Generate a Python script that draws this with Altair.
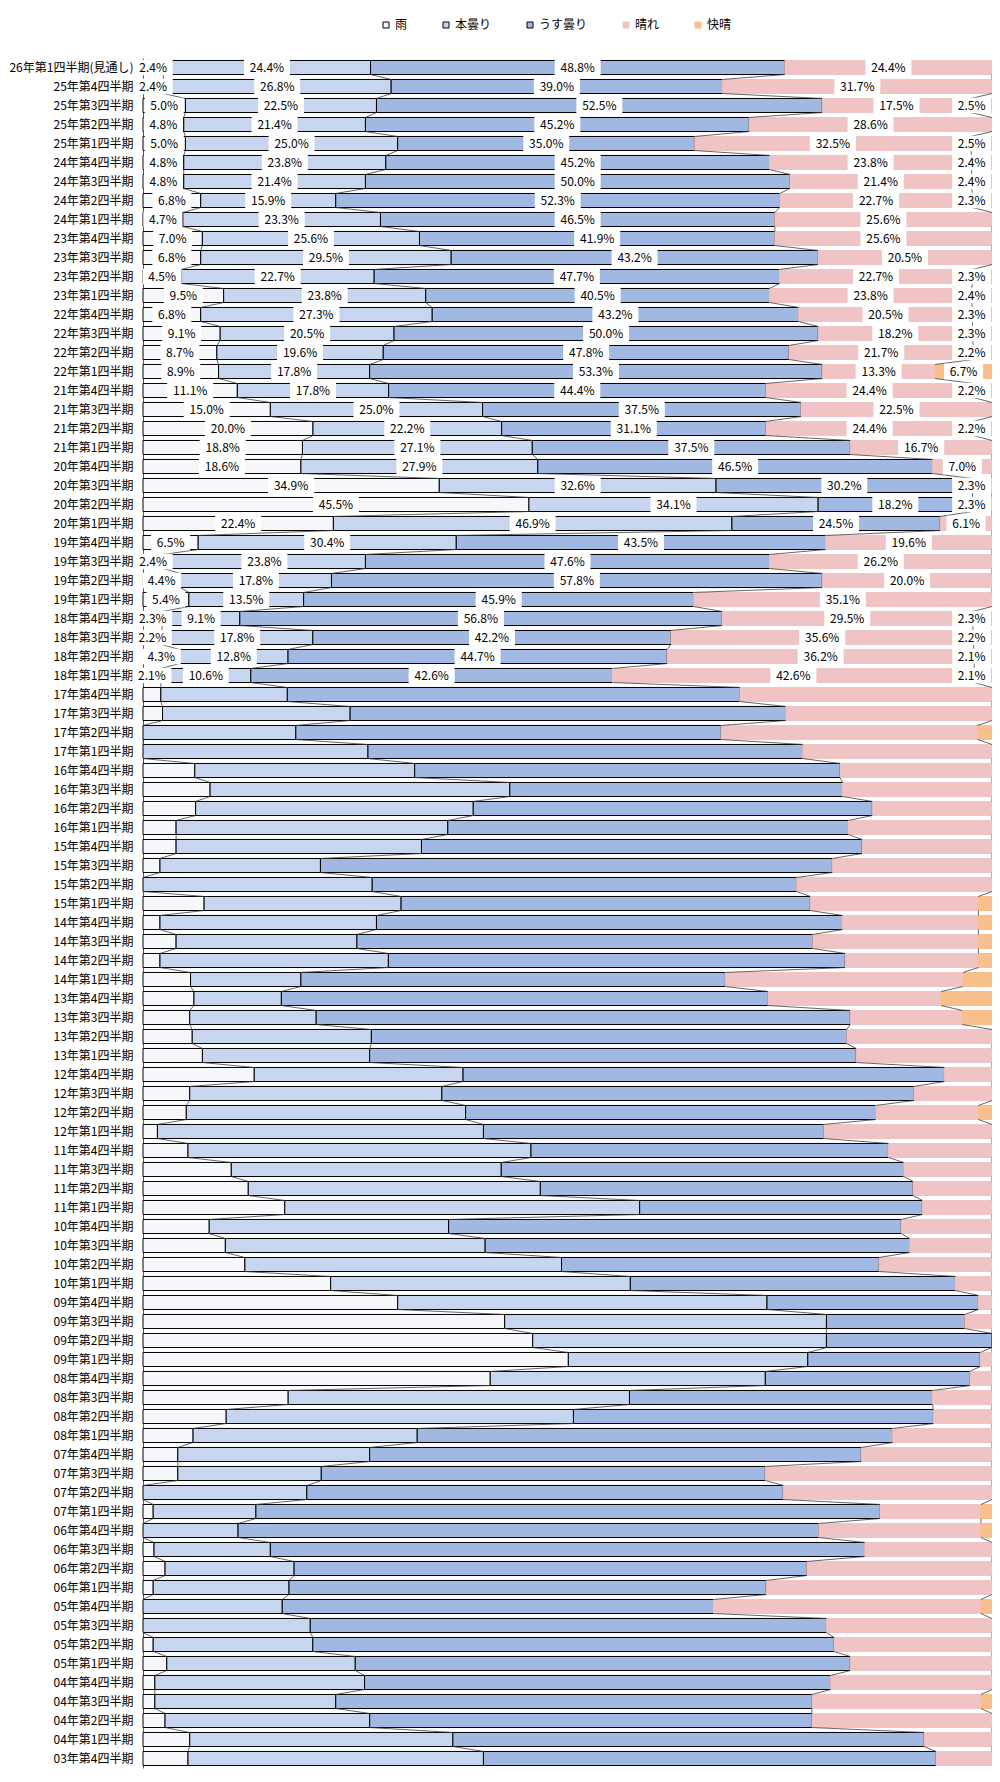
import altair as alt
import pandas as pd

periods = (["26年第1四半期(見通し)"]
           + [f"{y:02d}年第{q}四半期" for y in range(25, 3, -1) for q in (4, 3, 2, 1)]
           + ["03年第4四半期"])

cats = ["雨", "本曇り", "うす曇り", "晴れ", "快晴"]

# rows with data labels (26Q1 .. 18Q1)
rain_top = [2.4, 2.4, 5.0, 4.8, 5.0, 4.8, 4.8, 6.8, 4.7, 7.0, 6.8, 4.5, 9.5, 6.8, 9.1, 8.7, 8.9,
            11.1, 15.0, 20.0, 18.8, 18.6, 34.9, 45.5, 22.4, 6.5, 2.4, 4.4, 5.4, 2.3, 2.2, 4.3, 2.1]
hon_top = [24.4, 26.8, 22.5, 21.4, 25.0, 23.8, 21.4, 15.9, 23.3, 25.6, 29.5, 22.7, 23.8, 27.3, 20.5, 19.6, 17.8,
           17.8, 25.0, 22.2, 27.1, 27.9, 32.6, 34.1, 46.9, 30.4, 23.8, 17.8, 13.5, 9.1, 17.8, 12.8, 10.6]
usu_top = [48.8, 39.0, 52.5, 45.2, 35.0, 45.2, 50.0, 52.3, 46.5, 41.9, 43.2, 47.7, 40.5, 43.2, 50.0, 47.8, 53.3,
           44.4, 37.5, 31.1, 37.5, 46.5, 30.2, 18.2, 24.5, 43.5, 47.6, 57.8, 45.9, 56.8, 42.2, 44.7, 42.6]
hare_top = [24.4, 31.7, 17.5, 28.6, 32.5, 23.8, 21.4, 22.7, 25.6, 25.6, 20.5, 22.7, 23.8, 20.5, 18.2, 21.7, 13.3,
            24.4, 22.5, 24.4, 16.7, 7.0, 2.3, 2.3, 6.1, 19.6, 26.2, 20.0, 35.1, 29.5, 35.6, 36.2, 42.6]
kai_top = [0, 0, 2.5, 0, 2.5, 2.4, 2.4, 2.3, 0, 0, 0, 2.3, 2.4, 2.3, 2.3, 2.2, 6.7,
           2.2, 0, 2.2, 0, 0, 0, 0, 0, 0, 0, 0, 0, 2.3, 2.2, 2.1, 2.1]

# rows without labels (17Q4 .. 03Q4)
rain_low = [2.1, 2.3, 0, 0, 6.1, 7.9, 6.2, 3.9, 3.9, 2.0, 0, 7.2, 2.0, 3.9, 2.0, 5.6,
            6.0, 5.5, 5.8, 7.0, 13.1, 5.5, 5.1, 1.7, 5.3, 10.4, 12.4, 16.7, 7.8, 9.7, 12.0, 22.1,
            30.0, 42.6, 45.9, 50.1, 40.9, 17.1, 9.8, 5.9, 4.1, 4.1, 0, 1.2, 0, 1.3, 2.6, 1.2,
            0, 0, 1.2, 2.8, 1.4, 1.4, 2.6, 5.5, 5.3]
hon_low = [14.9, 22.1, 18.0, 26.5, 25.9, 35.3, 32.7, 32.0, 28.9, 18.9, 27.0, 23.2, 25.5, 21.3, 26.9, 13.0,
           10.3, 14.9, 21.1, 19.7, 24.6, 29.7, 32.9, 38.4, 40.4, 31.8, 34.4, 41.8, 28.2, 30.6, 37.3, 35.3,
           43.5, 37.9, 34.6, 28.2, 32.4, 40.2, 40.9, 26.4, 22.6, 16.9, 19.3, 12.1, 11.2, 13.7, 15.2, 16.0,
           16.4, 19.7, 18.8, 22.2, 24.7, 21.3, 24.1, 31.0, 34.8]
usu_low = [53.3, 51.3, 50.1, 51.2, 50.1, 39.2, 47.0, 47.2, 51.9, 60.3, 50.0, 48.2, 54.9, 53.7, 53.8, 50.0,
           57.3, 62.9, 56.0, 57.3, 56.7, 55.6, 48.3, 40.1, 42.1, 47.4, 43.9, 33.3, 53.3, 50.0, 37.4, 38.3,
           24.9, 16.3, 19.5, 20.3, 24.1, 35.7, 42.4, 56.0, 57.9, 52.3, 56.1, 73.5, 68.4, 70.0, 60.4, 56.2,
           50.8, 60.8, 61.4, 58.3, 54.9, 56.1, 52.1, 55.5, 53.3]
hare_low = [29.7, 24.3, 30.2, 22.3, 17.9, 17.6, 14.1, 16.9, 15.3, 18.8, 23.0, 19.8, 16.0, 19.5, 15.7, 28.0,
            20.4, 13.2, 17.1, 16.0, 5.6, 9.2, 12.1, 19.8, 12.2, 10.4, 9.3, 8.2, 10.7, 9.7, 13.3, 4.3,
            1.6, 3.2, 0, 1.4, 2.6, 7.0, 6.9, 11.7, 15.4, 26.7, 24.6, 11.9, 19.1, 15.0, 21.8, 26.6,
            31.5, 19.5, 18.6, 16.7, 19.0, 19.9, 21.2, 8.0, 6.6]
kai_low = [0, 0, 1.7, 0, 0, 0, 0, 0, 0, 0, 0, 1.6, 1.6, 1.6, 1.6, 3.4,
           6.0, 3.5, 0, 0, 0, 0, 1.6, 0, 0, 0, 0, 0, 0, 0, 0, 0,
           0, 0, 0, 0, 0, 0, 0, 0, 0, 0, 0, 1.3, 1.3, 0, 0, 0,
           1.3, 0, 0, 0, 0, 1.3, 0, 0, 0]

rain = rain_top + rain_low
hon = hon_top + hon_low
usu = usu_top + usu_low
hare = hare_top + hare_low
kaisei = kai_top + kai_low
n_labeled = len(rain_top)
n = len(periods)

fills = ["#f5f7fb", "#c7d5ee", "#a1b9e2", "#f0c4c4", "#f9bf8c"]
strokes = ["#000000", "#000000", "#000000", "#f0c4c4", "#f9bf8c"]
FONT = "Noto Sans CJK JP"

seg_rows, bounds = [], []
for i in range(n):
    vals = [rain[i], hon[i], usu[i], hare[i], kaisei[i]]
    tot = sum(vals)
    cum = 0.0
    b = []
    for c, v in zip(cats, vals):
        x0 = cum / tot * 100
        cum += v
        x1 = cum / tot * 100
        seg_rows.append(dict(row=i, cat=c, value=v, x0=x0, x1=x1, mid=(x0 + x1) / 2,
                             show=bool(i < n_labeled and v > 0)))
        b.append(x1)
    bounds.append(b[:4])
seg = pd.DataFrame(seg_rows)

line_rows = []
for i in range(n - 1):
    for k in range(4):
        line_rows.append(dict(row=i, xa=bounds[i][k], xb=bounds[i + 1][k]))
ldf = pd.DataFrame(line_rows)

x_scale = alt.Scale(domain=[0, 100], nice=False, zero=False)
y_scale = alt.Scale(domain=[-0.5, n - 0.5], reverse=True, nice=False, zero=False)

label_array = "[" + ",".join("'" + p + "'" for p in periods) + "]"
y_axis = alt.Axis(values=list(range(n)), labelExpr=label_array + "[datum.value]", title=None,
                  ticks=False, tickSize=0, grid=False, domain=True, domainColor="#595959",
                  labelFontSize=12, labelFont=FONT, labelColor="#000000", labelPadding=10,
                  labelOverlap=False)

leg = alt.Legend(orient="none", legendX=237, legendY=-39, direction="horizontal", title=None,
                 symbolType="square", symbolSize=36, symbolStrokeWidth=1, columnPadding=32,
                 labelOffset=3, labelFontSize=12, labelFont=FONT, labelColor="#000000", padding=0)

bars = alt.Chart(seg).transform_filter("datum.value > 0").transform_calculate(
    ya="datum.row - 0.37", yb="datum.row + 0.37"
).mark_rect(strokeWidth=1).encode(
    x=alt.X("x0:Q", scale=x_scale, axis=None),
    x2="x1:Q",
    y=alt.Y("ya:Q", scale=y_scale, axis=y_axis),
    y2="yb:Q",
    fill=alt.Fill("cat:N", scale=alt.Scale(domain=cats, range=fills), sort=cats, legend=leg),
    stroke=alt.Stroke("cat:N", scale=alt.Scale(domain=cats, range=strokes), sort=cats, legend=leg),
)

lines = alt.Chart(ldf).transform_calculate(
    ya="datum.row + 0.37", yb="datum.row + 0.63"
).mark_rule(color="#404040", strokeWidth=0.8).encode(
    x=alt.X("xa:Q", scale=x_scale, axis=None),
    x2="xb:Q",
    y=alt.Y("ya:Q", scale=y_scale, axis=y_axis),
    y2="yb:Q",
)

lab_expr = "format(datum.value, '.1f') + '%'"
pos_expr = "min(datum.mid, 97.6)"
box_long = "M-2.3,-0.78L2.3,-0.78L2.3,0.78L-2.3,0.78Z"
box_short = "M-1.95,-0.78L1.95,-0.78L1.95,0.78L-1.95,0.78Z"

boxes = alt.Chart(seg).transform_filter("datum.show").transform_calculate(
    lab=lab_expr, xm=pos_expr
).transform_calculate(
    shp=f"length(datum.lab) > 4 ? '{box_long}' : '{box_short}'"
).mark_point(filled=True, color="#ffffff", opacity=1, size=400, strokeWidth=0).encode(
    x=alt.X("xm:Q", scale=x_scale, axis=None),
    y=alt.Y("row:Q", scale=y_scale, axis=y_axis),
    shape=alt.Shape("shp:N", scale=None, legend=None),
)

texts = alt.Chart(seg).transform_filter("datum.show").transform_calculate(
    lab=lab_expr, xm=pos_expr
).mark_text(fontSize=12, font=FONT, color="#000000", baseline="middle", align="center").encode(
    x=alt.X("xm:Q", scale=x_scale, axis=None),
    y=alt.Y("row:Q", scale=y_scale, axis=y_axis),
    text="lab:N",
)

chart = alt.layer(bars, lines, boxes, texts).properties(
    width=849, height=19 * n,
    padding={"left": 135, "top": 50, "right": 0, "bottom": 4},
    autosize=alt.AutoSizeParams(type="none"),
    background="#ffffff",
).configure_view(stroke=None)

chart.save("out.html", embed_options={"renderer": "svg", "actions": False})
